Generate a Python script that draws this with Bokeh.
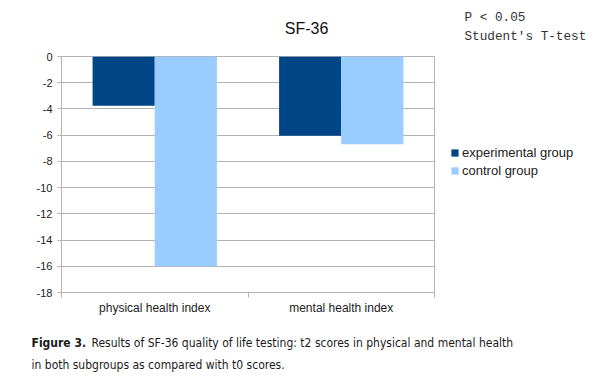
from bokeh.plotting import figure
from bokeh.models import (Range1d, FixedTicker, ColumnDataSource, Legend, LegendItem,
                          Label)
from bokeh.transform import dodge
from bokeh.embed import file_html
from bokeh.resources import INLINE

categories = ["physical health index", "mental health index"]
experimental = [-3.75, -6.05]
control = [-16.0, -6.7]
y_ticks = [0, -2, -4, -6, -8, -10, -12, -14, -16, -18]

DARK = "#004586"
LIGHT = "#99ccff"
GRID = "#b3b3b3"

x_pos = [i + 0.5 for i in range(len(categories))]
src = ColumnDataSource(dict(x=x_pos, exp=experimental, ctl=control))

p = figure(frame_width=373, frame_height=236, output_backend="svg", toolbar_location=None,
           x_range=Range1d(0, len(categories)), y_range=Range1d(-18, 0),
           min_border_left=61, min_border_right=159, min_border_top=56,
           min_border_bottom=80)
p.outline_line_color = GRID
p.background_fill_color = "white"
p.border_fill_color = "white"

r1 = p.vbar(x=dodge("x", -1/6, range=p.x_range), top=0, bottom="exp", width=1/3,
            source=src, fill_color=DARK, line_color=None)
r2 = p.vbar(x=dodge("x", 1/6, range=p.x_range), top=0, bottom="ctl", width=1/3,
            source=src, fill_color=LIGHT, line_color=None)

p.xaxis.ticker = FixedTicker(ticks=x_pos, minor_ticks=list(range(len(categories) + 1)))
p.xaxis.major_label_overrides = {x: c for x, c in zip(x_pos, categories)}
p.xaxis.major_tick_line_color = None
p.xaxis.major_tick_out = 0
p.xaxis.minor_tick_line_color = GRID
p.xaxis.minor_tick_out = 5
p.xaxis.minor_tick_in = 0
p.xaxis.axis_line_color = GRID
p.xaxis.major_label_standoff = 3
p.xaxis.major_label_text_font = "Liberation Sans"
p.xaxis.major_label_text_font_size = "12px"
p.xaxis.major_label_text_color = "#222222"
p.xgrid.visible = False

p.yaxis.ticker = FixedTicker(ticks=y_ticks, minor_ticks=[])
p.yaxis.major_label_overrides = {t: str(t) for t in y_ticks}
p.yaxis.major_tick_line_color = GRID
p.yaxis.major_tick_out = 4
p.yaxis.major_tick_in = 0
p.yaxis.axis_line_color = GRID
p.yaxis.major_label_standoff = 5
p.yaxis.major_label_text_font = "Liberation Sans"
p.yaxis.major_label_text_font_size = "11px"
p.yaxis.major_label_text_color = "#222222"
p.ygrid.grid_line_color = GRID
p.ygrid.ticker = FixedTicker(ticks=y_ticks)

legend = Legend(items=[LegendItem(label="experimental group", renderers=[r1]),
                       LegendItem(label="control group", renderers=[r2])],
                location=(16, 113), orientation="vertical")
legend.border_line_color = None
legend.background_fill_alpha = 0
legend.margin = 0
legend.padding = 0
legend.spacing = 0
legend.glyph_width = 9
legend.glyph_height = 9
legend.label_height = 18
legend.label_standoff = 3
legend.label_text_font = "Liberation Sans"
legend.label_text_font_size = "13px"
legend.label_text_color = "#222222"
p.add_layout(legend, "right")

def lab(x, y, text, side, **kw):
    p.add_layout(Label(x=x, y=y, x_units="canvas", y_units="canvas", text=text, **kw), side)

lab(306, 28, "SF-36", "above", text_align="center", text_baseline="middle",
    text_font="Liberation Sans", text_font_size="16px", text_color="#111111")
lab(464, 17, "P < 0.05", "above", text_align="left", text_baseline="middle",
    text_font="Liberation Mono", text_font_size="12.7px", text_color="#333333")
lab(464, 36, "Student's T-test", "above", text_align="left", text_baseline="middle",
    text_font="Liberation Mono", text_font_size="12.7px", text_color="#333333")

cap = dict(text_align="left", text_baseline="alphabetic", text_font="DejaVu Sans Condensed",
           text_font_size="12px", text_color="#1a1a1a")
lab(31, 342, "Figure 3.", "below", text_font_style="bold", **cap)
lab(91, 342, "Results of SF-36 quality of life testing: t2 scores in physical and mental health", "below", **cap)
lab(31, 364, "in both subgroups as compared with t0 scores.", "below", **cap)

open("out.html", "w").write(file_html(p, INLINE))
